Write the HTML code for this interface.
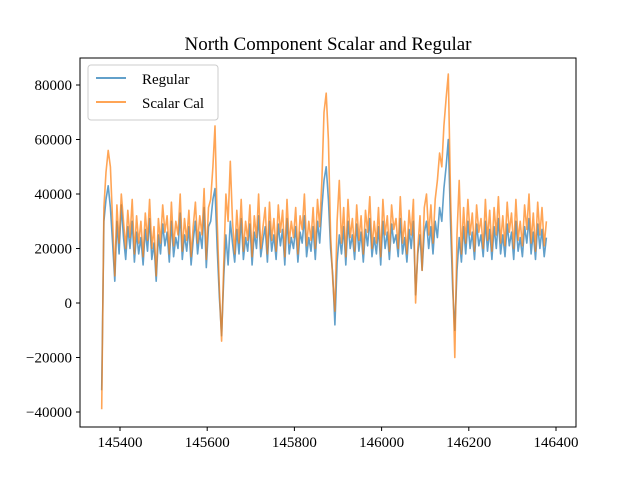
<!DOCTYPE html>
<html><head><meta charset="utf-8"><style>
body{margin:0;background:#fff}
svg text{font-family:"Liberation Serif",serif;fill:#000}
</style></head><body>
<svg id="chart" width="640" height="480">
<rect width="640" height="480" fill="#fff"/>
<text x="328" y="50" font-size="19" text-anchor="middle">North Component Scalar and Regular</text>
<g id="plot"></g>
<g id="axes"></g>
<rect x="80" y="58" width="496" height="369" fill="none" stroke="#000" stroke-width="1"/>
<g>
<rect x="88" y="65" width="130" height="55" rx="3" fill="#fff" fill-opacity="0.8" stroke="#ccc"/>
<line x1="96" y1="78" x2="126" y2="78" stroke="#1f77b4" stroke-opacity="0.7" stroke-width="2"/>
<text x="142" y="84" font-size="15">Regular</text>
<line x1="96" y1="102" x2="126" y2="102" stroke="#ff7f0e" stroke-opacity="0.7" stroke-width="2"/>
<text x="142" y="108" font-size="15">Scalar Cal</text>
</g>
</svg>
<script>
const xStart = 145358, xStep = 5;
const regular = [-32,30,38,43,35,22,8,30,18,36,
24,16,28,20,30,15,26,18,24,14,
27,19,31,16,22,8,25,18,29,21,
26,15,30,17,24,20,33,16,25,19,
28,14,23,30,18,26,20,35,13,28,
30,38,42,20,2,-12,10,25,14,30,
22,15,27,18,31,16,24,19,29,14,
26,20,32,17,23,28,15,30,19,25,
16,29,21,27,14,31,18,24,20,28,
15,26,22,32,17,24,19,28,16,30,
22,35,45,50,38,20,10,-8,15,25,
18,28,14,30,20,25,16,29,19,26,
15,27,21,31,17,24,18,28,14,30,
20,26,16,29,22,25,17,31,18,24,
15,27,20,30,3,18,25,12,26,30,
20,28,18,30,24,35,30,42,50,60,
30,5,-10,12,24,15,28,18,30,20,
26,16,29,21,25,17,30,19,27,16,
28,20,31,18,25,17,29,21,26,16,
30,19,24,17,28,22,31,18,26,16,
29,20,27,17,24];
const scalar = [-39,35,48,56,50,30,10,36,22,40,
30,20,34,24,38,18,32,22,30,17,
33,23,38,20,28,10,31,22,36,26,
32,18,37,21,30,25,40,19,31,23,
34,17,28,37,22,32,25,42,16,35,
38,50,65,30,5,-14,15,40,30,52,
30,18,34,22,38,19,30,23,36,17,
32,24,40,20,28,35,18,37,23,31,
19,36,26,34,17,38,22,30,24,35,
18,32,27,40,21,30,23,35,20,38,
28,45,70,77,60,25,8,-3,30,45,
22,35,17,38,24,31,19,36,23,32,
18,34,26,39,20,30,22,35,17,38,
25,32,19,36,27,31,20,39,22,30,
18,34,25,38,0,20,32,12,35,40,
25,36,22,38,45,55,50,65,75,84,
40,10,-20,25,45,18,35,22,38,25,
33,19,36,26,31,20,38,23,34,19,
35,25,39,22,32,21,37,26,33,20,
38,23,30,21,36,27,40,22,33,19,
37,25,35,21,30];
const xTicks = [145400,145600,145800,146000,146200,146400];
const yTicks = [-40000,-20000,0,20000,40000,60000,80000];
const NS="http://www.w3.org/2000/svg";
function sx(v){return 120+(v-145400)*0.436;}
function sy(v){return 303-v*54.5/20000;}
const plot=document.getElementById('plot'), axes=document.getElementById('axes');
function series(arr,color,name){
  let d=arr.map((v,i)=>(i?'L':'M')+sx(xStart+i*xStep).toFixed(1)+','+sy(v*1000).toFixed(1)).join('');
  const p=document.createElementNS(NS,'path');
  p.setAttribute('d',d);p.setAttribute('fill','none');p.setAttribute('stroke',color);
  p.setAttribute('stroke-opacity','0.7');p.setAttribute('stroke-width','1.6');p.setAttribute('stroke-linejoin','round');
  
  
  plot.appendChild(p);
}
series(regular,'#1f77b4','regular-line');
series(scalar,'#ff7f0e','scalar-cal-line');
xTicks.forEach(t=>{
  const x=sx(t);
  const l=document.createElementNS(NS,'line');
  l.setAttribute('x1',x);l.setAttribute('x2',x);l.setAttribute('y1',427);l.setAttribute('y2',431);l.setAttribute('stroke','#000');
  
  
  axes.appendChild(l);
  const tx=document.createElementNS(NS,'text');
  tx.setAttribute('x',x);tx.setAttribute('y',447);tx.setAttribute('font-size','15');tx.setAttribute('text-anchor','middle');
  tx.textContent=t;
  
  
  axes.appendChild(tx);
});
yTicks.forEach(t=>{
  const y=sy(t);
  const l=document.createElementNS(NS,'line');
  l.setAttribute('x1',76);l.setAttribute('x2',80);l.setAttribute('y1',y);l.setAttribute('y2',y);l.setAttribute('stroke','#000');
  
  
  axes.appendChild(l);
  const tx=document.createElementNS(NS,'text');
  tx.setAttribute('x',72);tx.setAttribute('y',y+5);tx.setAttribute('font-size','15');tx.setAttribute('text-anchor','end');
  tx.textContent=(t<0?'\u2212'+(-t):t);
  
  
  axes.appendChild(tx);
});
</script>
</body></html>
